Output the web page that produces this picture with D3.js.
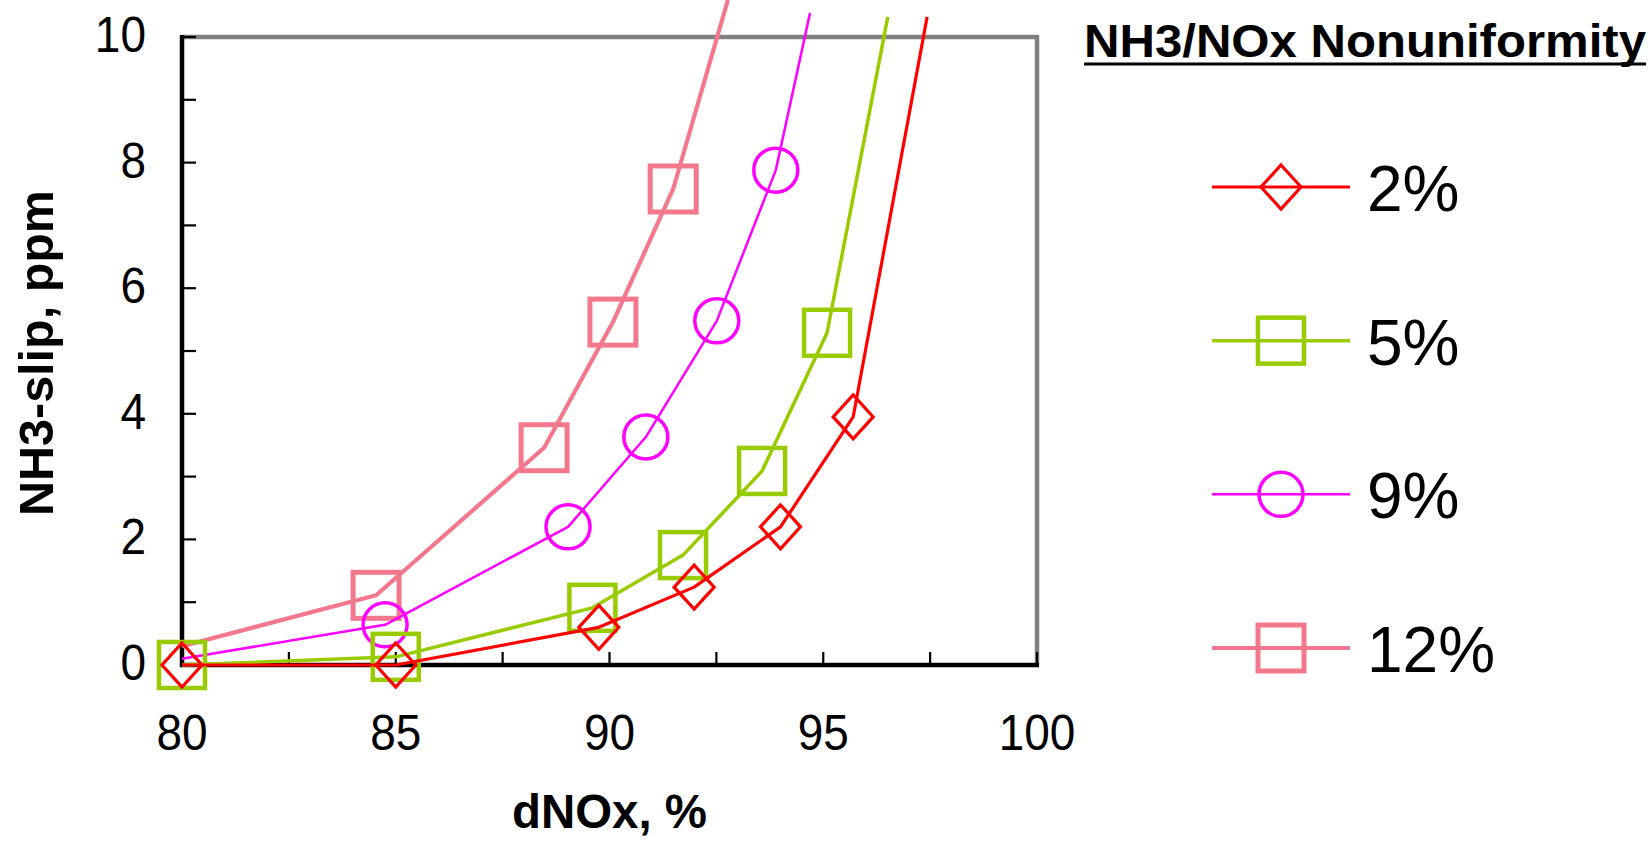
<!DOCTYPE html>
<html>
<head>
<meta charset="utf-8">
<script src="https://cdn.jsdelivr.net/npm/d3@7"></script>
<style>
  html, body { margin: 0; padding: 0; background: #ffffff; }
  svg { display: block; font-family: "Liberation Sans", Arial, sans-serif; }
</style>
</head>
<body>
<svg id="chart" width="1651" height="841"></svg>
<script>
// ---- data ----
const seriesNames = ["2%", "5%", "9%", "12%"];
const dnox2  = [80, 85, 89.75, 91.98, 94.0, 95.7, 97.43];
const slip2  = [0, 0, 0.6, 1.24, 2.2, 3.95, 10.32];
const dnox5  = [80, 85, 89.6, 91.72, 93.57, 95.09, 96.51];
const slip5  = [0, 0.13, 0.91, 1.75, 3.09, 5.29, 10.32];
const dnox9  = [80, 84.75, 89.03, 90.85, 92.51, 93.89, 94.69];
const slip9  = [0.1, 0.64, 2.2, 3.63, 5.48, 7.88, 10.38];
const dnox12 = [80, 84.54, 88.47, 90.08, 91.49, 92.77];
const slip12 = [0.3, 1.11, 3.46, 5.46, 7.58, 10.59];
const xTickLabels = [80, 85, 90, 95, 100];
const yTickLabels = [0, 2, 4, 6, 8, 10];
const xMinorTicks = [80, 82.5, 85, 87.5, 90, 92.5, 95, 97.5, 100];
const yMinorTicks = [0, 1, 2, 3, 4, 5, 6, 7, 8, 9, 10];
const legendTitle = "NH3/NOx Nonuniformity";
const xTitle = "dNOx, %";
const yTitle = "NH3-slip, ppm";

// ---- styles ----
const styles = [
  { color: "#FF0000", lw: 3.2, mw: 3.2, shape: "diamond", skipFirstMarker: false },
  { color: "#99CC00", lw: 3.5, mw: 4.5, shape: "square",  skipFirstMarker: false },
  { color: "#FF00FF", lw: 2.5, mw: 3.5, shape: "circle",  skipFirstMarker: true },
  { color: "#F4788C", lw: 4.2, mw: 5, shape: "square",  skipFirstMarker: true }
];
const xs = [dnox2, dnox5, dnox9, dnox12];
const ys = [slip2, slip5, slip9, slip12];
const series = seriesNames.map((n, i) => ({
  name: n, style: styles[i],
  pts: xs[i].map((x, j) => ({ x: x, y: ys[i][j], idx: j }))
}));

const svg = d3.select("#chart");
const L = 182, R = 1037, T = 37, B = 665;
const x = d3.scaleLinear().domain([80, 100]).range([L, R]);
const y = d3.scaleLinear().domain([0, 10]).range([B, T]);

// frame: top/right gray, left/bottom black
svg.append("line").attr("x1", L).attr("x2", R).attr("y1", T).attr("y2", T)
  .attr("stroke", "#808080").attr("stroke-width", 4.5);
svg.append("line").attr("x1", R).attr("x2", R).attr("y1", T - 2).attr("y2", B)
  .attr("stroke", "#808080").attr("stroke-width", 4.5);

// inward minor ticks
svg.append("g").selectAll("line").data(yMinorTicks).join("line")
  .attr("x1", L).attr("x2", L + 14).attr("y1", d => y(d)).attr("y2", d => y(d))
  .attr("stroke", "#000").attr("stroke-width", 2.2);
svg.append("g").selectAll("line").data(xMinorTicks).join("line")
  .attr("x1", d => x(d)).attr("x2", d => x(d)).attr("y1", B).attr("y2", B - 13)
  .attr("stroke", "#000").attr("stroke-width", 2.2);

svg.append("line").attr("x1", L).attr("x2", L).attr("y1", T - 2).attr("y2", B + 2)
  .attr("stroke", "#000").attr("stroke-width", 4.5);
svg.append("line").attr("x1", L - 2).attr("x2", R + 2).attr("y1", B).attr("y2", B)
  .attr("stroke", "#000").attr("stroke-width", 4.5);

// tick labels
svg.append("g").selectAll("text").data(yTickLabels).join("text")
  .attr("transform", d => `translate(146,${y(d) + 15}) scale(0.92,1)`)
  .attr("text-anchor", "end").attr("font-size", 50).attr("fill", "#000")
  .text(d => d);
svg.append("g").selectAll("text").data(xTickLabels).join("text")
  .attr("transform", d => `translate(${x(d)},750) scale(0.92,1)`)
  .attr("text-anchor", "middle").attr("font-size", 50).attr("fill", "#000")
  .text(d => d);

// axis titles
svg.append("text").attr("transform", "translate(53,353) rotate(-90)")
  .attr("text-anchor", "middle").attr("font-size", 49).attr("font-weight", "bold")
  .attr("textLength", 326).attr("lengthAdjust", "spacingAndGlyphs")
  .text(yTitle);
svg.append("text").attr("x", (L + R) / 2).attr("y", 828)
  .attr("text-anchor", "middle").attr("font-size", 48).attr("font-weight", "bold")
  .attr("textLength", 195).attr("lengthAdjust", "spacingAndGlyphs")
  .text(xTitle);

// marker drawer
function drawMarker(g, cx, cy, st) {
  if (st.shape === "diamond") {
    g.append("path")
      .attr("d", `M${cx},${cy - 22}L${cx + 20},${cy}L${cx},${cy + 22}L${cx - 20},${cy}Z`)
      .attr("fill", "none").attr("stroke", st.color).attr("stroke-width", st.mw);
  } else if (st.shape === "square") {
    g.append("rect").attr("x", cx - 23).attr("y", cy - 23).attr("width", 46).attr("height", 46)
      .attr("fill", "none").attr("stroke", st.color).attr("stroke-width", st.mw);
  } else {
    g.append("circle").attr("cx", cx).attr("cy", cy).attr("r", 22)
      .attr("fill", "none").attr("stroke", st.color).attr("stroke-width", st.mw);
  }
}

const line = d3.line().x(d => x(d.x)).y(d => y(d.y));
// draw order: pink, magenta, green, red (red on top)
series.slice().reverse().forEach(s => {
  const g = svg.append("g");
  g.append("path").datum(s.pts).attr("d", line)
    .attr("fill", "none").attr("stroke", s.style.color).attr("stroke-width", s.style.lw)
    .attr("stroke-linejoin", "round");
  s.pts.forEach(p => {
    if (p.y > 10) return;
    if (s.style.skipFirstMarker && p.idx === 0) return;
    drawMarker(g, x(p.x), y(p.y), s.style);
  });
});

// legend
svg.append("text").attr("x", 1084).attr("y", 57)
  .attr("font-size", 46).attr("font-weight", "bold")
  .attr("textLength", 562).attr("lengthAdjust", "spacingAndGlyphs")
  .text(legendTitle);
svg.append("line").attr("x1", 1084).attr("x2", 1646).attr("y1", 64).attr("y2", 64)
  .attr("stroke", "#000").attr("stroke-width", 3);

const legendY = d3.scalePoint().domain(seriesNames).range([187, 648]);
series.forEach(s => {
  const ly = legendY(s.name);
  const g = svg.append("g");
  g.append("line").attr("x1", 1212).attr("x2", 1350).attr("y1", ly).attr("y2", ly)
    .attr("stroke", s.style.color).attr("stroke-width", s.style.lw);
  drawMarker(g, 1281, ly, s.style);
  g.append("text").attr("x", 1367).attr("y", ly + 24)
    .attr("font-size", 64).attr("fill", "#000").text(s.name);
});
</script>
</body>
</html>
